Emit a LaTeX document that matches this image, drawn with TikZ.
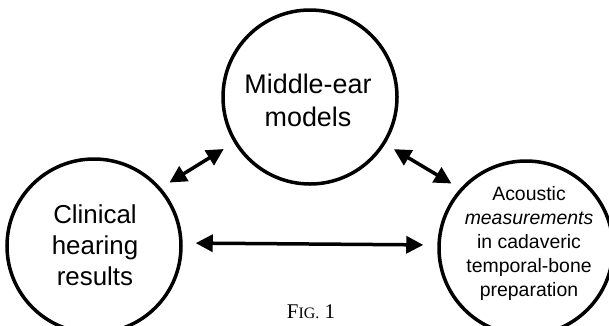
\documentclass[tikz,border=0pt]{standalone}
\usepackage{fontspec}
\setmainfont{Liberation Sans}
\newfontfamily\figfont{Liberation Serif}
\usetikzlibrary{arrows.meta}
\begin{document}
\begin{tikzpicture}[x=1bp,y=-1bp,
  bubble/.style={circle,draw,line width=3.5bp,minimum size=174bp,inner sep=0pt},
  bigtxt/.style={align=center,inner sep=0pt,font=\fontsize{26}{31}\selectfont},
  smalltxt/.style={align=center,inner sep=0pt,font=\fontsize{19.5}{24}\selectfont},
  link/.style={line width=3.5bp,{Triangle[length=17bp,width=17bp]}-{Triangle[length=17bp,width=17bp]}}]
\useasboundingbox (0,0) rectangle (609,325);
\clip (0,0) rectangle (609,325);
\node[bubble] (mid) at (310,97) {};
\node[bubble] (left) at (94,246) {};
\node[bubble] (right) at (526,248) {};
\node[bigtxt,font=\fontsize{27}{33}\selectfont] (midtxt) at (308,100) {Middle-ear\\models};
\node[bigtxt] (lefttxt) at (95,245) {Clinical\\hearing\\results};
\node[smalltxt] (righttxt) at (529,243.5) {Acoustic\\\textit{measurements}\\in cadaveric\\temporal-bone\\preparation};
\draw[link,shorten <=12bp,shorten >=10bp] (mid.211) -- (left.41);
\draw[link,shorten <=10bp,shorten >=10bp] (mid.328.4) -- (right.138);
\draw[link,shorten <=13bp,shorten >=14bp] ([yshift=3bp]left.east) -- ([yshift=3bp]right.west);
\node (fig) at (311,312) {\figfont\fontsize{21}{21}\selectfont F\fontsize{16}{16}\selectfont IG.\fontsize{21}{21}\selectfont{} 1};
\end{tikzpicture}
\end{document}
